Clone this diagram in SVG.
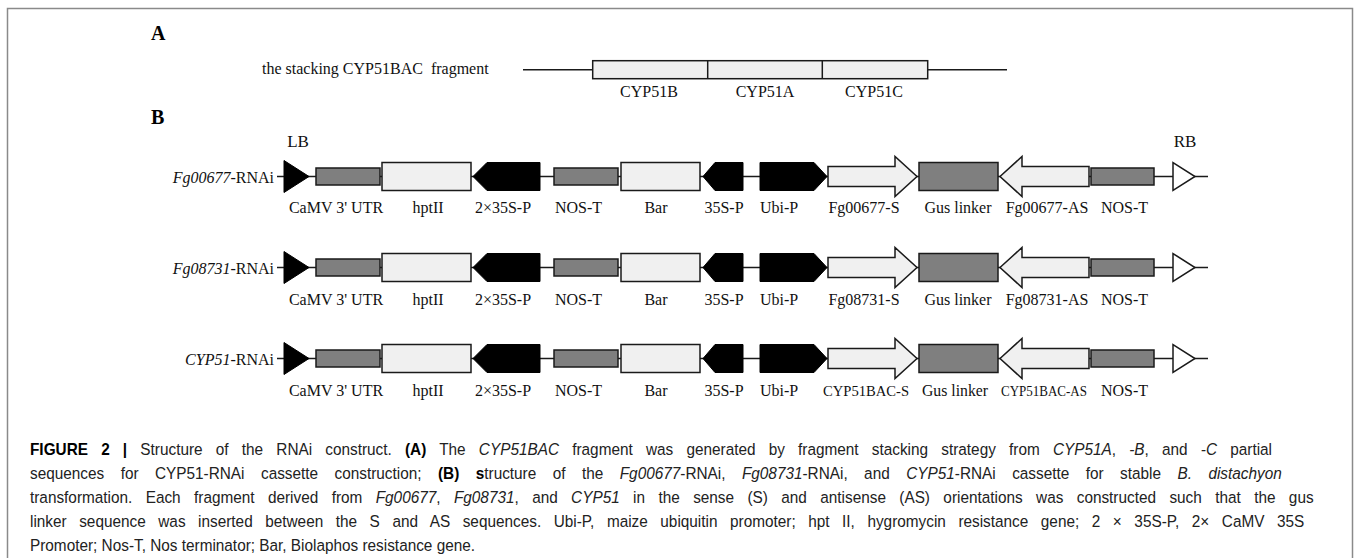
<svg xmlns="http://www.w3.org/2000/svg" width="1355" height="558" viewBox="0 0 1355 558">
<style>
.frame{fill:none;stroke:#8a8a8a;stroke-width:1.5}
.bb{stroke:#1a1a1a;stroke-width:1.5;fill:none}
.lt{fill:#f0f0f0;stroke:#1a1a1a;stroke-width:1.5}
.gr{fill:#7f7f7f;stroke:#1a1a1a;stroke-width:1.5}
.bk{fill:#000;stroke:#000;stroke-width:1}
.wt{fill:#fff;stroke:#1a1a1a;stroke-width:1.5}
.lab{font-family:"Liberation Serif","Times New Roman",serif;font-size:16px;fill:#111;text-anchor:middle}
.sm{font-size:15px}
.rl{font-family:"Liberation Serif","Times New Roman",serif;font-size:16px;fill:#111;text-anchor:end}
.hd{font-family:"Liberation Serif","Times New Roman",serif;font-size:20px;font-weight:bold;fill:#000}
.cap{font-family:"Liberation Sans",Arial,sans-serif;font-size:16.5px;fill:#222}
.b{font-weight:bold;fill:#000}
.i{font-style:italic}
</style>
<path class="frame" d="M7.5,562 V8.5 H1352.5 V562"/>

<g id="panelA">
<text class="hd" x="151" y="40">A</text>
<text class="lab" style="text-anchor:start" x="262" y="73.5">the stacking CYP51BAC&#160; fragment</text>
<line class="bb" x1="523" y1="69.7" x2="1007" y2="69.7"/>
<rect class="lt" x="592.7" y="60.7" width="335" height="18"/>
<line class="bb" x1="707.7" y1="60.7" x2="707.7" y2="78.7"/>
<line class="bb" x1="822.3" y1="60.7" x2="822.3" y2="78.7"/>
<text class="lab" x="649" y="96.7">CYP51B</text>
<text class="lab" x="765" y="96.7">CYP51A</text>
<text class="lab" x="874" y="96.7">CYP51C</text>
</g>

<g id="panelB-head">
<text class="hd" x="151" y="124.3">B</text>
<text class="lab" x="298" y="146.7" style="font-size:17px">LB</text>
<text class="lab" x="1185" y="146.7" style="font-size:17px">RB</text>
</g>

<defs>
<g id="cassette">
<line class="bb" x1="277" y1="0" x2="1208" y2="0"/>
<polygon class="bk" points="284,-16 284,16 309,0"/>
<rect class="gr" x="316" y="-8.5" width="64" height="17"/>
<rect class="lt" x="382" y="-14" width="89" height="28"/>
<polygon class="bk" points="473,0 487,-14 540,-14 540,14 487,14"/>
<rect class="gr" x="554" y="-8.5" width="64" height="17"/>
<rect class="lt" x="621" y="-14" width="79" height="28"/>
<polygon class="bk" points="703,0 715,-14 743,-14 743,14 715,14"/>
<polygon class="bk" points="760,-14 814,-14 827,0 814,14 760,14"/>
<polygon class="lt" points="828,-10 895,-10 895,-20 917,0 895,20 895,10 828,10"/>
<rect class="gr" x="919" y="-14" width="79" height="28"/>
<polygon class="lt" points="1000,0 1022,-20 1022,-10 1089,-10 1089,10 1022,10 1022,20"/>
<rect class="gr" x="1091" y="-8.5" width="63" height="17"/>
<polygon class="wt" points="1173,-14 1173,14 1195,0"/>
</g>
</defs>

<g id="row1">
<use href="#cassette" transform="translate(0,176.5)"/>
<text class="rl" x="274" y="182.5"><tspan class="i">Fg00677</tspan>-RNAi</text>
<text class="lab" x="336" y="213.3">CaMV 3' UTR</text>
<text class="lab" x="428" y="213.3">hptII</text>
<text class="lab" x="503" y="213.3">2×35S-P</text>
<text class="lab" x="578.5" y="213.3">NOS-T</text>
<text class="lab" x="656" y="213.3">Bar</text>
<text class="lab" x="724" y="213.3">35S-P</text>
<text class="lab" x="779" y="213.3">Ubi-P</text>
<text class="lab" x="864" y="213.3">Fg00677-S</text>
<text class="lab" x="958" y="213.3">Gus linker</text>
<text class="lab" x="1047" y="213.3">Fg00677-AS</text>
<text class="lab" x="1124.5" y="213.3">NOS-T</text>
</g>

<g id="row2">
<use href="#cassette" transform="translate(0,267.5)"/>
<text class="rl" x="274" y="273.5"><tspan class="i">Fg08731</tspan>-RNAi</text>
<text class="lab" x="336" y="304.5">CaMV 3' UTR</text>
<text class="lab" x="428" y="304.5">hptII</text>
<text class="lab" x="503" y="304.5">2×35S-P</text>
<text class="lab" x="578.5" y="304.5">NOS-T</text>
<text class="lab" x="656" y="304.5">Bar</text>
<text class="lab" x="724" y="304.5">35S-P</text>
<text class="lab" x="779" y="304.5">Ubi-P</text>
<text class="lab" x="864" y="304.5">Fg08731-S</text>
<text class="lab" x="958" y="304.5">Gus linker</text>
<text class="lab" x="1047" y="304.5">Fg08731-AS</text>
<text class="lab" x="1124.5" y="304.5">NOS-T</text>
</g>

<g id="row3">
<use href="#cassette" transform="translate(0,358.5)"/>
<text class="rl" x="274" y="365"><tspan class="i">CYP51</tspan>-RNAi</text>
<text class="lab" x="336" y="395.5">CaMV 3' UTR</text>
<text class="lab" x="428" y="395.5">hptII</text>
<text class="lab" x="503" y="395.5">2×35S-P</text>
<text class="lab" x="578.5" y="395.5">NOS-T</text>
<text class="lab" x="656" y="395.5">Bar</text>
<text class="lab" x="724" y="395.5">35S-P</text>
<text class="lab" x="779" y="395.5">Ubi-P</text>
<text class="lab sm" x="866" y="395.5" textLength="86" lengthAdjust="spacingAndGlyphs">CYP51BAC-S</text>
<text class="lab" x="955" y="395.5" textLength="66" lengthAdjust="spacingAndGlyphs">Gus linker</text>
<text class="lab sm" x="1044" y="395.5" textLength="86" lengthAdjust="spacingAndGlyphs">CYP51BAC-AS</text>
<text class="lab" x="1124.5" y="395.5">NOS-T</text>
</g>

<g id="caption" transform="translate(30,0) scale(0.9306,1)">
<text class="cap" x="0" y="455" style="word-spacing:9.6px"><tspan class="b">FIGURE 2 |</tspan> Structure of the RNAi construct. <tspan class="b">(A)</tspan> The <tspan class="i">CYP51BAC</tspan> fragment was generated by fragment stacking strategy from <tspan class="i">CYP51A</tspan>, <tspan class="i">-B</tspan>, and <tspan class="i">-C</tspan> partial</text>
<text class="cap" x="0" y="479" style="word-spacing:13.1px">sequences for CYP51-RNAi cassette construction; <tspan class="b">(B) s</tspan>tructure of the <tspan class="i">Fg00677</tspan>-RNAi, <tspan class="i">Fg08731</tspan>-RNAi, and <tspan class="i">CYP51</tspan>-RNAi cassette for stable <tspan class="i">B. distachyon</tspan></text>
<text class="cap" x="0" y="503" style="word-spacing:9.8px">transformation. Each fragment derived from <tspan class="i">Fg00677</tspan>, <tspan class="i">Fg08731</tspan>, and <tspan class="i">CYP51</tspan> in the sense (S) and antisense (AS) orientations was constructed such that the gus</text>
<text class="cap" x="0" y="527" style="word-spacing:8.9px">linker sequence was inserted between the S and AS sequences. Ubi-P, maize ubiquitin promoter; hpt II, hygromycin resistance gene; 2 × 35S-P, 2× CaMV 35S</text>
<text class="cap" x="0" y="551">Promoter; Nos-T, Nos terminator; Bar, Biolaphos resistance gene.</text>
</g>
</svg>
